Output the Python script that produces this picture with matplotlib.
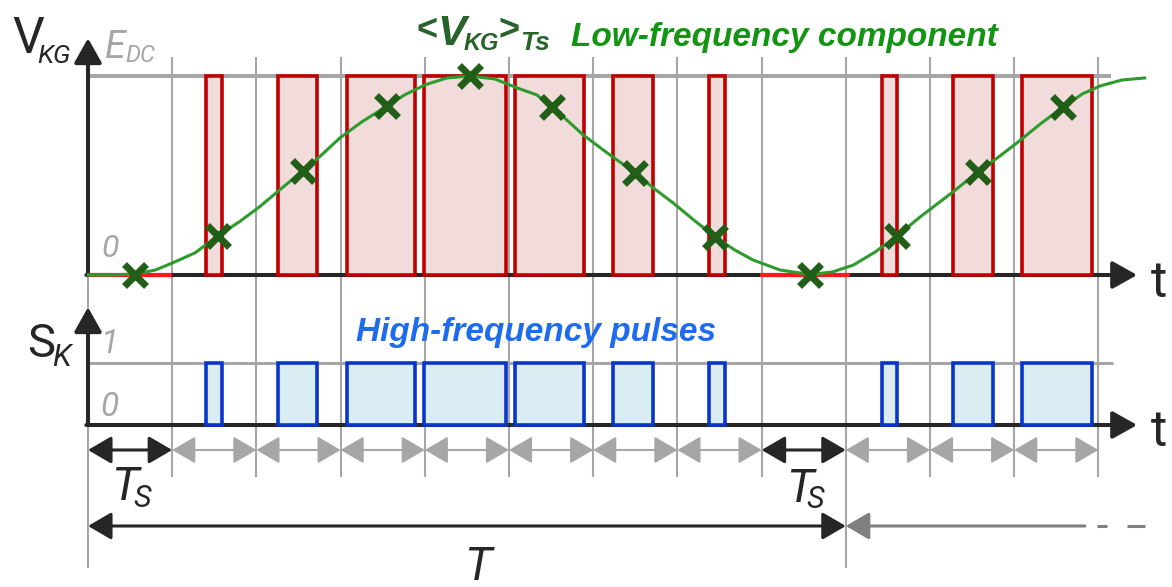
import numpy as np
import matplotlib
matplotlib.use("Agg")
import matplotlib.pyplot as plt

# ---- data (time in units of Ts, voltage in units of E_DC) ----
GRID_T = list(range(13))                     # switching-period boundaries
PULSE_ON = [1.40, 2.26, 3.08, 3.99, 5.07, 6.24, 7.38, 9.43, 10.27, 11.09]
PULSE_OFF = [1.59, 2.72, 3.88, 4.96, 5.89, 6.71, 7.57, 9.61, 10.75, 11.92]
ZERO_ON = [0.0, 7.98]                        # periods with zero duty
ZERO_OFF = [1.0, 9.05]
SAMPLE_T = [0.56, 1.54, 2.55, 3.55, 4.54, 5.51, 6.50, 7.45, 8.57, 9.61, 10.57, 11.58]
SAMPLE_V = [0.0, 0.196, 0.523, 0.849, 1.0, 0.844, 0.513, 0.191, 0.0, 0.196, 0.518, 0.844]
CURVE_T = [0.00, 0.26, 0.56, 0.80, 1.00, 1.27, 1.54, 1.81, 2.05, 2.26, 2.55, 2.76,
           2.99, 3.25, 3.55, 3.76, 4.00, 4.26, 4.54, 4.83, 5.13, 5.33, 5.51, 5.70,
           5.88, 6.20, 6.50, 6.73, 6.95, 7.21, 7.45, 7.68, 7.90, 8.22, 8.57, 8.84,
           9.09, 9.35, 9.61, 9.88, 10.24, 10.57, 10.83, 11.03, 11.31, 11.58, 11.81,
           12.02, 12.28, 12.55]
CURVE_V = [0.0, 0.0, 0.005, 0.025, 0.060, 0.111, 0.196, 0.271, 0.347, 0.422, 0.523, 0.598,
           0.688, 0.769, 0.849, 0.905, 0.955, 0.990, 1.0, 0.985, 0.935, 0.905, 0.844, 0.774,
           0.704, 0.603, 0.513, 0.432, 0.362, 0.271, 0.191, 0.126, 0.075, 0.025, 0.003, 0.015,
           0.050, 0.116, 0.196, 0.291, 0.407, 0.518, 0.598, 0.663, 0.759, 0.844, 0.910,
           0.950, 0.980, 0.990]
BLACK_PERIODS = [0, 8]                       # Ts dimension arrows drawn in black
T_PERIODS = 9                                # fundamental period T in Ts

# ---- style ----
W, H = 1172, 587
X0, PX = 88, 84.2
INK = "#262626"
GREY = "#A6A6A6"
RED, RED_FILL = "#C00000", "#F2DCDB"
BLUE, BLUE_FILL = "#0A35CC", "#DAEDF3"
THIN = ["Roboto", "Liberation Sans", "DejaVu Sans"]
SANS = ["Liberation Sans", "DejaVu Sans"]

fig = plt.figure(figsize=(W / 100, H / 100), dpi=100)
xlim = (-X0 / PX, (W - X0) / PX)
ax = fig.add_axes([0, 287 / H, 1, 300 / H])
ax.set_xlim(xlim)
ax.set_ylim(-25 / 199, 275 / 199)
ax.axis("off")
bx = fig.add_axes([0, 0, 1, 287 / H])
bx.set_xlim(xlim)
bx.set_ylim(-162 / 62, 125 / 62)
bx.axis("off")


def arrow(a, p0, p1, style, color, lw, scale, z=3):
    a.annotate("", xy=p1, xytext=p0, zorder=z,
               arrowprops=dict(arrowstyle=style, color=color, lw=lw,
                               mutation_scale=scale, shrinkA=0, shrinkB=0))


def ptext(px, py, s, size, color=INK, family=THIN, weight="normal", **kw):
    fig.text(px / W, 1 - py / H, s, fontsize=size, color=color, family=family,
             weight=weight, ha="left", va="baseline", **kw)


# grid lines
ax.vlines(GRID_T, -0.5, 1.095, color=GREY, lw=1.5, zorder=1)
low = [-2.306 if t in (0, T_PERIODS) else -0.839 for t in GRID_T]
bx.vlines(GRID_T, low, 3.0, color=GREY, lw=1.5, zorder=1)
ax.hlines(1.0, 0, 12.15, color=GREY, lw=2.9, zorder=1.2)
bx.hlines(1.0, 0, 12.17, color=GREY, lw=2.2, zorder=1.2)

# axes with arrow heads
head = "-|>,head_length=0.75,head_width=0.42"
for a, ytip in ((ax, 1.19), (bx, 1.90)):
    arrow(a, (-0.02, 0), (12.46, 0), head, INK, 2.9, 20, z=1.8)
    arrow(a, (0, 0), (0, ytip), head, INK, 2.9, 20, z=1.8)

# PWM pulses
widths = np.subtract(PULSE_OFF, PULSE_ON)
ax.bar(PULSE_ON, 1.0, width=widths, align="edge", color=RED_FILL,
       edgecolor=RED, lw=2.6, zorder=2)
bx.bar(PULSE_ON, 1.0, width=widths, align="edge", color=BLUE_FILL,
       edgecolor=BLUE, lw=2.6, zorder=2)
ax.hlines([0] * len(ZERO_ON), ZERO_ON, ZERO_OFF, color="#FF1A1A", lw=3, zorder=2.5)

# low-frequency component and samples
ax.plot(CURVE_T, CURVE_V, color="#2E9B2E", lw=2.2, zorder=4, solid_joinstyle="round")
ax.plot(SAMPLE_T, SAMPLE_V, ls="none", marker="x", ms=16, mew=5,
        color="#215E17", zorder=5)

# Ts dimension arrows
dim = "<|-|>,head_length=1.2,head_width=0.7"
for k in range(len(GRID_T) - 1):
    col = INK if k in BLACK_PERIODS else GREY
    lw = 2.2 if k in BLACK_PERIODS else 1.5
    arrow(bx, (k, -0.403), (k + 1, -0.403), dim, col, lw, 12)
arrow(bx, (0, -1.629), (T_PERIODS, -1.629), dim, INK, 2.2, 12)
arrow(bx, (11.84, -1.629), (T_PERIODS, -1.629), "-|>,head_length=1.2,head_width=0.7",
      "#808080", 2.2, 12)
bx.hlines([-1.629, -1.629], [11.98, 12.34], [12.10, 12.55], color="#808080", lw=2.2, zorder=3)

# labels
ptext(12, 53, "V", 36)
ptext(37, 63, "KG", 19, style="italic")
ptext(105, 58, "E", 27, color=GREY, style="italic")
ptext(125, 62, "DC", 17, color=GREY, style="italic")
ptext(101, 257, "0", 23, color=GREY, style="italic")
ptext(27, 357, "S", 34)
ptext(52, 366, "K", 22, style="italic")
ptext(101, 353, "1", 24, color=GREY, style="italic")
ptext(100, 416, "0", 24, color=GREY, style="italic")
ptext(1151, 297, "t", 36)
ptext(1151, 446, "t", 36)
ptext(111, 500, "T", 34, style="italic")
ptext(133, 507, "S", 22, style="italic")
ptext(786, 502, "T", 34, style="italic")
ptext(806, 508, "S", 22, style="italic")
ptext(464, 580, "T", 34, style="italic")

DKGREEN = "#27632A"
ptext(416, 40, "<", 26, color=DKGREEN, family=SANS, weight="bold")
ptext(437, 45, "V", 31, color=DKGREEN, family=SANS, weight="bold", style="italic")
ptext(464, 50, "KG", 17, color=DKGREEN, family=SANS, weight="bold", style="italic")
ptext(498, 40, ">", 26, color=DKGREEN, family=SANS, weight="bold")
ptext(520, 50, "Ts", 19, color=DKGREEN, family=SANS, weight="bold", style="italic")
ptext(571, 46, "Low-frequency component", 24, color="#139413", family=SANS,
      weight="bold", style="italic")
ptext(356, 341, "High-frequency pulses", 24, color="#1F6BEF", family=SANS,
      weight="bold", style="italic")

fig.savefig("out.png", dpi=100)
